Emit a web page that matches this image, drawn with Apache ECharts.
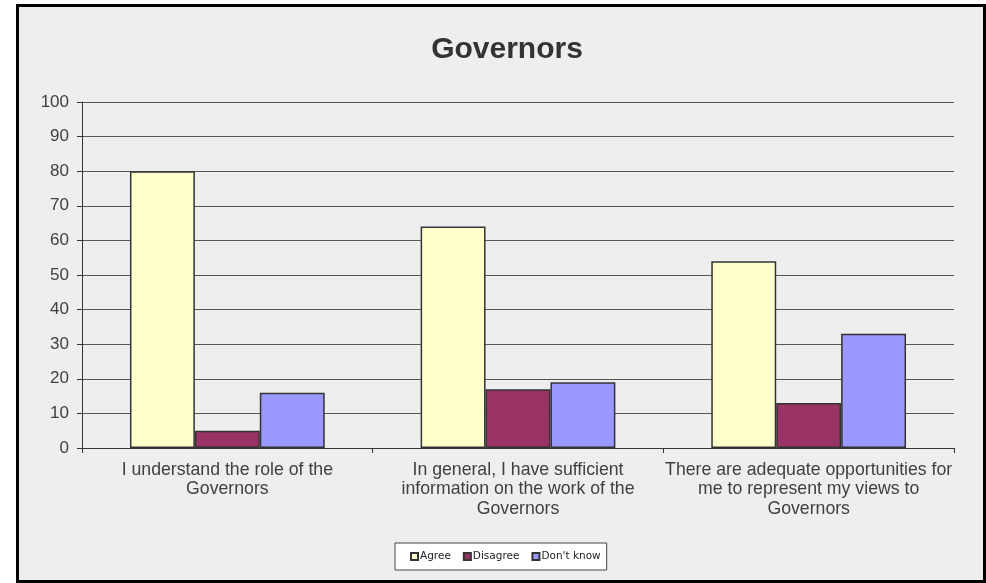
<!DOCTYPE html>
<html><head><meta charset="utf-8">
<script src="https://cdn.jsdelivr.net/npm/echarts@6/dist/echarts.min.js"></script>
<style>
html,body{margin:0;padding:0;background:#fff;width:986px;height:583px;overflow:hidden}
#frame{position:absolute;left:16px;top:4px;width:964px;height:573px;border:3px solid #000;background:#eeeeee}
#chart{position:absolute;left:0;top:0;width:986px;height:583px}
</style></head><body>
<div id="frame"></div>
<div id="chart"></div>
<script>
const categories = [
  "I understand the role of the\nGovernors",
  "In general, I have sufficient\ninformation on the work of the\nGovernors",
  "There are adequate opportunities for\nme to represent my views to\nGovernors"
];
const agree = [80, 64, 54];
const disagree = [5, 17, 13];
const dontKnow = [16, 19, 33];
const seriesNames = ["Agree", "Disagree", "Don't know"];
const colors = ["#FFFFCC", "#993366", "#9999FF"];

const chart = echarts.init(document.getElementById('chart'), null, {renderer: 'canvas'});
const font = '"Liberation Sans", Arial, sans-serif';
const mk = (name, data, color) => ({
  name, type: 'bar', data,
  barGap: '0%', barCategoryGap: '33%',
  itemStyle: {color, borderColor: '#333', borderWidth: 1.5},
  emphasis: {disabled: true}
});
chart.setOption({
  backgroundColor: 'transparent',
  animation: false,
  title: {
    text: 'Governors', left: 502, top: 30, textAlign: 'center',
    textStyle: {fontFamily: font, fontSize: 30, fontWeight: 'bold', color: '#333'}
  },
  legend: {
    data: seriesNames, left: 395, top: 543, orient: 'horizontal',
    itemWidth: 7, itemHeight: 7, itemGap: 12,
    backgroundColor: '#ffffff', borderColor: '#444', borderWidth: 1,
    padding: [8, 6, 8, 15],
    textStyle: {fontFamily: '"DejaVu Sans", Verdana, sans-serif', fontSize: 10.5, color: '#222', padding: [0, 0, 0, -3]},
    icon: 'rect'
  },
  grid: {left: 82, right: 32, top: 102, bottom: 135, containLabel: false},
  xAxis: {
    type: 'category', data: categories, boundaryGap: true,
    axisLine: {lineStyle: {color: '#333', width: 1}},
    axisTick: {show: true, length: 5, lineStyle: {color: '#333'}},
    axisLabel: {fontFamily: font, fontSize: 17.7, color: '#404040', margin: 12, lineHeight: 19.5, interval: 0}
  },
  yAxis: {
    type: 'value', min: 0, max: 100, interval: 10,
    axisLine: {show: true, lineStyle: {color: '#333', width: 1}},
    axisTick: {show: true, length: 5, lineStyle: {color: '#333'}},
    axisLabel: {fontFamily: font, fontSize: 17, color: '#404040', margin: 13},
    splitLine: {show: true, lineStyle: {color: '#555', width: 1}}
  },
  series: [
    mk(seriesNames[0], agree, colors[0]),
    mk(seriesNames[1], disagree, colors[1]),
    mk(seriesNames[2], dontKnow, colors[2])
  ]
});
</script></body></html>
